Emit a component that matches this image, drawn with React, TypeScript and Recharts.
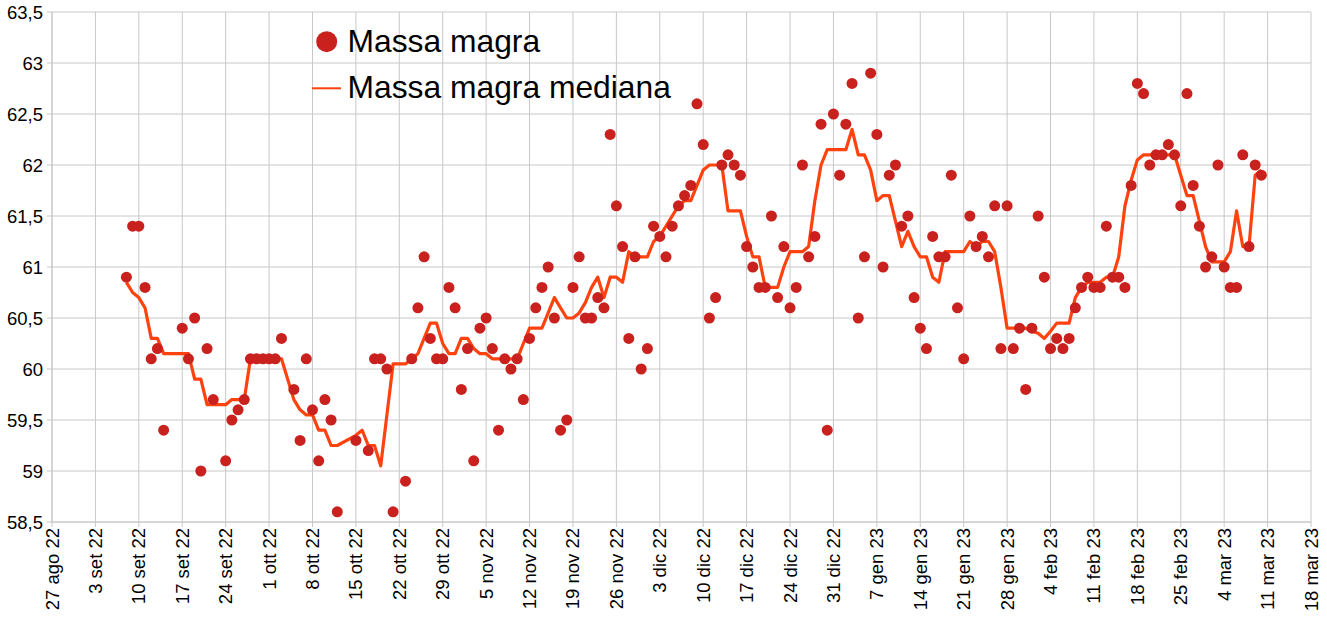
import React from 'react';
import { LineChart, Line, XAxis, YAxis, CartesianGrid, Legend } from 'recharts';

// x: days since 27 ago 22
const xTicks = [0, 7, 14, 21, 28, 35, 42, 49, 56, 63, 70, 77, 84, 91, 98, 105, 112, 119, 126, 133, 140, 147, 154, 161, 168, 175, 182, 189, 196, 203];
const xTickLabels = [
  '27 ago 22', '3 set 22', '10 set 22', '17 set 22', '24 set 22', '1 ott 22', '8 ott 22', '15 ott 22',
  '22 ott 22', '29 ott 22', '5 nov 22', '12 nov 22', '19 nov 22', '26 nov 22', '3 dic 22', '10 dic 22',
  '17 dic 22', '24 dic 22', '31 dic 22', '7 gen 23', '14 gen 23', '21 gen 23', '28 gen 23', '4 feb 23',
  '11 feb 23', '18 feb 23', '25 feb 23', '4 mar 23', '11 mar 23', '18 mar 23',
];
const yTicks = [58.5, 59, 59.5, 60, 60.5, 61, 61.5, 62, 62.5, 63, 63.5];

const days = [
  12, 13, 14, 15, 16, 17, 18, 19, 20, 21, 22, 23, 24, 25, 26, 27, 28, 29, 30, 31,
  32, 33, 34, 35, 36, 37, 38, 39, 40, 41, 42, 43, 44, 45, 46, 47, 48, 49, 50, 51,
  52, 53, 54, 55, 56, 57, 58, 59, 60, 61, 62, 63, 64, 65, 66, 67, 68, 69, 70, 71,
  72, 73, 74, 75, 76, 77, 78, 79, 80, 81, 82, 83, 84, 85, 86, 87, 88, 89, 90, 91,
  92, 93, 94, 95, 96, 97, 98, 99, 100, 101, 102, 103, 104, 105, 106, 107, 108, 109, 110, 111,
  112, 113, 114, 115, 116, 117, 118, 119, 120, 121, 122, 123, 124, 125, 126, 127, 128, 129, 130, 131,
  132, 133, 134, 135, 136, 137, 138, 139, 140, 141, 142, 143, 144, 145, 146, 147, 148, 149, 150, 151,
  152, 153, 154, 155, 156, 157, 158, 159, 160, 161, 162, 163, 164, 165, 166, 167, 168, 169, 170, 171,
  172, 173, 174, 175, 176, 177, 178, 179, 180, 181, 182, 183, 184, 185, 186, 187, 188, 189, 190, 191,
  192, 193, 194, 195,
];

const massaMagra = [
  60.9, 61.4, 61.4, 60.8, 60.1, 60.2, 59.4, null, null, 60.4, 60.1, 60.5, 59.0, 60.2, 59.7, null, 59.1, 59.5, 59.6, 59.7,
  60.1, 60.1, 60.1, 60.1, 60.1, 60.3, null, 59.8, 59.3, 60.1, 59.6, 59.1, 59.7, 59.5, 58.6, null, null, 59.3, null, 59.2,
  60.1, 60.1, 60.0, 58.6, null, 58.9, 60.1, 60.6, 61.1, 60.3, 60.1, 60.1, 60.8, 60.6, 59.8, 60.2, 59.1, 60.4, 60.5, 60.2,
  59.4, 60.1, 60.0, 60.1, 59.7, 60.3, 60.6, 60.8, 61.0, 60.5, 59.4, 59.5, 60.8, 61.1, 60.5, 60.5, 60.7, 60.6, 62.3, 61.6,
  61.2, 60.3, 61.1, 60.0, 60.2, 61.4, 61.3, 61.1, 61.4, 61.6, 61.7, 61.8, 62.6, 62.2, 60.5, 60.7, 62.0, 62.1, 62.0, 61.9,
  61.2, 61.0, 60.8, 60.8, 61.5, 60.7, 61.2, 60.6, 60.8, 62.0, 61.1, 61.3, 62.4, 59.4, 62.5, 61.9, 62.4, 62.8, 60.5, 61.1,
  62.9, 62.3, 61.0, 61.9, 62.0, 61.4, 61.5, 60.7, 60.4, 60.2, 61.3, 61.1, 61.1, 61.9, 60.6, 60.1, 61.5, 61.2, 61.3, 61.1,
  61.6, 60.2, 61.6, 60.2, 60.4, 59.8, 60.4, 61.5, 60.9, 60.2, 60.3, 60.2, 60.3, 60.6, 60.8, 60.9, 60.8, 60.8, 61.4, 60.9,
  60.9, 60.8, 61.8, 62.8, 62.7, 62.0, 62.1, 62.1, 62.2, 62.1, 61.6, 62.7, 61.8, 61.4, 61.0, 61.1, 62.0, 61.0, 60.8, 60.8,
  62.1, 61.2, 62.0, 61.9,
];

const massaMagraMediana = [
  60.85, 60.75, 60.7, 60.6, 60.3, 60.3, 60.15, null, null, 60.15, 60.15, 59.9, 59.9, 59.65, 59.65, null, 59.65, 59.7, 59.7, 59.7,
  60.1, 60.1, 60.1, 60.1, 60.1, 60.1, null, 59.7, 59.6, 59.55, 59.55, 59.4, 59.4, 59.25, 59.25, null, null, 59.35, 59.4, 59.25,
  59.25, 59.05, null, 60.05, null, 60.05, 60.1, 60.15, 60.3, 60.45, 60.45, 60.25, 60.15, 60.15, 60.3, 60.3, 60.2, 60.15, 60.15, 60.1,
  60.1, 60.1, 60.1, 60.1, 60.25, 60.4, 60.4, 60.4, 60.55, 60.7, 60.6, 60.5, 60.5, 60.55, 60.65, 60.8, 60.9, 60.7, 60.9, 60.9,
  60.85, 61.15, 61.1, 61.1, 61.1, 61.25, 61.3, 61.4, 61.5, 61.6, 61.65, 61.65, 61.8, 61.95, 62.0, 62.0, 62.0, 61.55, 61.55, 61.55,
  61.3, 61.1, 61.1, 60.8, 60.8, 60.8, 61.0, 61.15, 61.15, 61.15, 61.2, 61.65, 62.0, 62.15, 62.15, 62.15, 62.15, 62.35, 62.1, 62.1,
  61.95, 61.65, 61.7, 61.7, 61.45, 61.2, 61.35, 61.2, 61.1, 61.1, 60.9, 60.85, 61.15, 61.15, 61.15, 61.15, 61.25, 61.2, 61.25, 61.25,
  61.15, 60.8, 60.4, 60.4, 60.4, 60.4, 60.37, 60.35, 60.3, 60.37, 60.45, 60.45, 60.45, 60.7, 60.8, 60.85, 60.85, 60.85, 60.9, 60.9,
  61.1, 61.6, 61.85, 62.05, 62.1, 62.1, 62.1, 62.1, 62.1, 62.1, 61.9, 61.7, 61.7, 61.45, 61.2, 61.05, 61.05, 61.05, 61.15, 61.55,
  61.2, 61.2, 61.9, 61.95,
];

const data = days.map((d, i) => ({ day: d, mm: massaMagra[i], med: massaMagraMediana[i] }));

const FONT = '"Liberation Sans", Arial, Helvetica, sans-serif';
const DOT_COLOR = '#c9211e';
const LINE_COLOR = '#ff420e';
const GRID_COLOR = '#c8c8c8';

const XTick = (props: any) => {
  const { x, y, payload } = props;
  const idx = xTicks.indexOf(payload.value);
  return (
    <text
      x={x}
      y={y}
      transform={`rotate(-90 ${x} ${y})`}
      textAnchor="end"
      dominantBaseline="central"
      fontSize={18.5}
      fontFamily={FONT}
      fill="#000"
    >
      {xTickLabels[idx]}
    </text>
  );
};

const renderLegend = () => (
  <svg width={420} height={90} style={{ display: 'block' }}>
    <circle cx={26.7} cy={21.7} r={10.5} fill={DOT_COLOR} />
    <text x={47.5} y={31.8} fontSize={31.8} fontFamily={FONT} fill="#000">Massa magra</text>
    <line x1={12} x2={41} y1={68.3} y2={68.3} stroke={LINE_COLOR} strokeWidth={2} />
    <text x={47.5} y={78.4} fontSize={31.8} fontFamily={FONT} fill="#000">Massa magra mediana</text>
  </svg>
);

export default function App() {
  return (
    <div style={{ position: 'absolute', left: 0, top: 0, width: 1327, height: 621, background: '#fff' }}>
      <LineChart
        width={1327}
        height={621}
        data={data}
        margin={{ top: 12, right: 16, left: 0, bottom: 0 }}
      >
        <CartesianGrid stroke={GRID_COLOR} strokeWidth={1} />
        <XAxis
          type="number"
          dataKey="day"
          domain={[0, 203]}
          ticks={xTicks}
          interval={0}
          height={99}
          tickSize={5}
          tickMargin={1}
          tick={<XTick />}
          axisLine={{ stroke: GRID_COLOR }}
          tickLine={{ stroke: GRID_COLOR }}
        />
        <YAxis
          type="number"
          domain={[58.5, 63.5]}
          ticks={yTicks}
          interval={0}
          width={52}
          tickSize={5}
          tickMargin={4}
          tickFormatter={(v: number) => String(v).replace('.', ',')}
          tick={{ fontSize: 18.5, fontFamily: FONT, fill: '#000' }}
          axisLine={{ stroke: GRID_COLOR }}
          tickLine={{ stroke: GRID_COLOR }}
        />
        <Legend
          layout="vertical"
          align="center"
          verticalAlign="middle"
          content={renderLegend}
          wrapperStyle={{ left: 300, top: 20, width: 420, height: 90 }}
        />
        <Line
          dataKey="mm"
          name="Massa magra"
          stroke="none"
          strokeWidth={0}
          dot={{ r: 5.5, fill: DOT_COLOR, stroke: 'none' }}
          activeDot={false}
          isAnimationActive={false}
        />
        <Line
          dataKey="med"
          name="Massa magra mediana"
          type="linear"
          stroke={LINE_COLOR}
          strokeWidth={3.2}
          strokeLinejoin="round"
          dot={false}
          activeDot={false}
          connectNulls
          isAnimationActive={false}
        />
      </LineChart>
    </div>
  );
}
